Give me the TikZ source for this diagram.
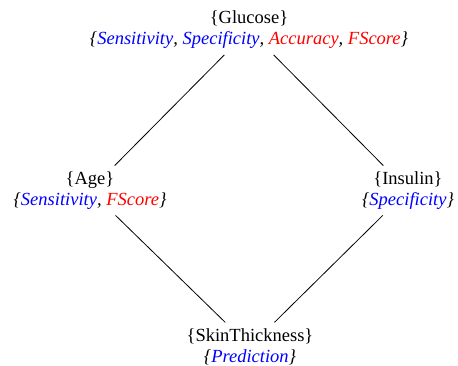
\documentclass[tikz,border=0pt]{standalone}
\usepackage{fontspec}
\setmainfont{Liberation Serif}
\usepackage{xcolor}
\begin{document}
\begin{tikzpicture}[x=1pt,y=-1pt,
  attr/.style={align=center,inner sep=6pt,outer sep=0pt,font=\fontsize{18.5}{21}\selectfont},
  link/.style={draw=black,line width=0.8pt}]
\useasboundingbox (0,0) rectangle (458,366);
\node[attr] (glu) at (249,30) {\{Glucose\}\\\textit{\{\textcolor{blue}{Sensitivity}, \textcolor{blue}{Specificity}, \textcolor{red}{Accuracy}, \textcolor{red}{FScore}\}}};
\node[attr] (age) at (90,190.5) {\{Age\}\\\textit{\{\textcolor{blue}{Sensitivity}, \textcolor{red}{FScore}\}}};
\node[attr] (ins) at (408,190.5) {\{Insulin\}\\\textit{\{\textcolor{blue}{Specificity}\}}};
\node[attr] (skin) at (250,346.5) {\{SkinThickness\}\\\textit{\{\textcolor{blue}{Prediction}\}}};
\draw[link] (glu) -- (age);
\draw[link] (glu) -- (ins);
\draw[link] (age) -- (skin);
\draw[link] (ins) -- (skin);
\end{tikzpicture}
\end{document}
